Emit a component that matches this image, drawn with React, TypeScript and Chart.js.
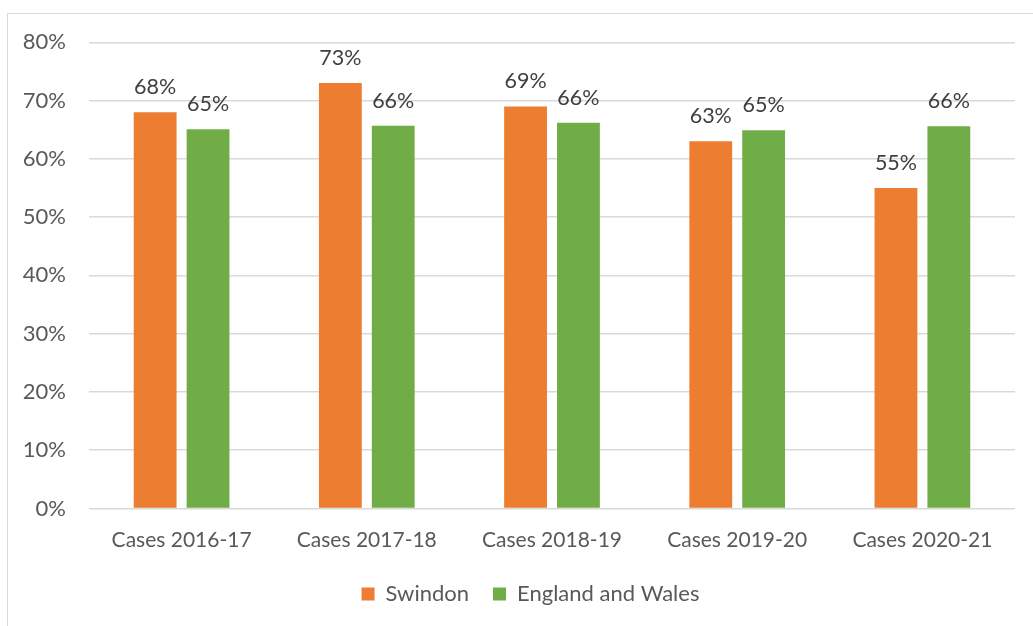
import React, { useEffect, useRef } from "react";
import { Chart, registerables } from "chart.js";

Chart.register(...registerables);

const categories = ["Cases 2016-17", "Cases 2017-18", "Cases 2018-19", "Cases 2019-20", "Cases 2020-21"];
const swindon = [68, 73, 69, 63, 55];
const englandWales = [65.1, 65.7, 66.2, 64.9, 65.6];
const seriesNames = ["Swindon", "England and Wales"];
const seriesColors = ["#ED7D31", "#70AD47"];
const yMin = 0;
const yMax = 80;
const yStep = 10;

const FONT = "Lato";

const frame = {
  id: "frame",
  beforeDraw(chart: any) {
    const ctx = chart.ctx;
    ctx.save();
    ctx.strokeStyle = "#D9D9D9";
    ctx.lineWidth = 1;
    ctx.strokeRect(7.5, 13.5, 1200, 800);
    ctx.restore();
  },
};

const legendShift = {
  id: "legendShift",
  afterLayout(chart: any) {
    if (chart.legend) {
      chart.legend.left += 46;
    }
  },
};

const dataLabels = {
  id: "dataLabels",
  afterDatasetsDraw(chart: any) {
    const ctx = chart.ctx;
    ctx.save();
    ctx.font = `21.5px ${FONT}`;
    ctx.fillStyle = "#404040";
    ctx.textAlign = "center";
    ctx.textBaseline = "middle";
    chart.data.datasets.forEach((ds: any, i: number) => {
      const meta = chart.getDatasetMeta(i);
      meta.data.forEach((el: any, j: number) => {
        ctx.fillText(`${Math.round(ds.data[j])}%`, el.x, el.y - 25);
      });
    });
    ctx.restore();
  },
};

export default function App() {
  const ref = useRef<HTMLCanvasElement>(null);
  useEffect(() => {
    if (!ref.current) return;
    const chart = new Chart(ref.current, {
      type: "bar",
      data: {
        labels: categories,
        datasets: [
          { label: seriesNames[0], data: swindon, backgroundColor: seriesColors[0], categoryPercentage: 0.571, barPercentage: 0.81 },
          { label: seriesNames[1], data: englandWales, backgroundColor: seriesColors[1], categoryPercentage: 0.571, barPercentage: 0.81 },
        ],
      },
      options: {
        responsive: false,
        animation: false,
        devicePixelRatio: 1,
        layout: { padding: { left: 0, right: 18, top: 42.3, bottom: 11 } },
        plugins: {
          legend: {
            position: "bottom",
            labels: {
              boxWidth: 13,
              boxHeight: 13,
              padding: 24,
              color: "#595959",
              font: { family: FONT, size: 22 },
            },
          },
          tooltip: { enabled: false },
        },
        scales: {
          x: {
            grid: { display: false, drawTicks: false },
            border: { display: false },
            ticks: { color: "#595959", font: { family: FONT, size: 21 }, padding: 19, maxRotation: 0 },
            afterFit(scale: any) {
              scale.height = 50.5;
            },
          },
          y: {
            min: yMin,
            max: yMax,
            grid: { color: "#D9D9D9", lineWidth: 1.5, drawTicks: false },
            border: { display: false },
            ticks: {
              stepSize: yStep,
              color: "#595959",
              font: { family: FONT, size: 22 },
              padding: 23,
              callback: (v: any) => `${v}%`,
            },
            afterFit(scale: any) {
              scale.width = 89;
            },
          },
        },
      },
      plugins: [frame, legendShift, dataLabels],
    });
    return () => chart.destroy();
  }, []);
  return (
    <div style={{ position: "absolute", left: 0, top: 0, width: 1033, height: 626, background: "#fff" }}>
      <canvas ref={ref} width={1033} height={626} style={{ display: "block" }} />
    </div>
  );
}
